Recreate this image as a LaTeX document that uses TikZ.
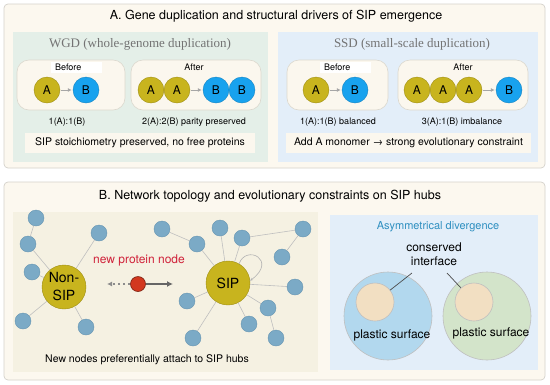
\documentclass[tikz,border=0pt]{standalone}
\usepackage{fontspec}
\setmainfont{TeX Gyre Heros}
\newfontfamily\ttlserif{Liberation Serif}
\usetikzlibrary{positioning,arrows.meta}
\definecolor{panelbg}{HTML}{FCF8EF}
\definecolor{panelline}{HTML}{D5D2CB}
\definecolor{wgdbg}{HTML}{E4EFE8}
\definecolor{ssdbg}{HTML}{E3EEF9}
\definecolor{stagebg}{HTML}{FBF7EE}
\definecolor{stageline}{HTML}{DCD8CE}
\definecolor{netbg}{HTML}{F5F1E2}
\definecolor{acol}{HTML}{C8B41E}
\definecolor{aline}{HTML}{9E8E12}
\definecolor{bcol}{HTML}{18A2EE}
\definecolor{bline}{HTML}{1584C2}
\definecolor{satcol}{HTML}{7BAAC6}
\definecolor{satline}{HTML}{6796B2}
\definecolor{newcol}{HTML}{D2381F}
\definecolor{newline}{HTML}{7A2010}
\definecolor{bigblue}{HTML}{B2D8EE}
\definecolor{biggreen}{HTML}{D3E4CA}
\definecolor{corecol}{HTML}{F2DFC2}
\definecolor{asymcol}{HTML}{2E8FC0}
\definecolor{newtxt}{HTML}{D0223A}
\tikzset{
  panelbox/.style={draw=panelline, fill=panelbg, rounded corners=4pt, line width=0.7pt},
  stagebox/.style={draw=stageline, fill=stagebg, rounded corners=12pt, line width=0.6pt},
  paneltitle/.style={font=\fontsize{12.5}{14}\selectfont, text=black},
  subtitle/.style={font=\ttlserif\fontsize{13}{15}\selectfont, text=black!55},
  beforelbl/.style={fill=white, text width=43pt, inner xsep=4pt, inner ysep=2pt, align=left},
  ratio/.style={font=\fontsize{9}{11}\selectfont},
  notebox/.style={fill=stagebg, minimum height=20pt, font=\fontsize{10.5}{12}\selectfont},
  anode/.style={circle, draw=aline, fill=acol, minimum size=26pt, inner sep=0pt, font=\fontsize{12}{14}\selectfont},
  bnode/.style={circle, draw=bline, fill=bcol, minimum size=26pt, inner sep=0pt, font=\fontsize{12}{14}\selectfont},
  dupearrow/.style={-{Latex[length=4pt,width=4pt]}, draw=black!35, line width=0.9pt, shorten <=1pt, shorten >=1pt},
  hub/.style={circle, draw=aline, fill=acol, minimum size=44pt, inner sep=0pt, align=center, font=\fontsize{14}{18}\selectfont},
  sat/.style={circle, draw=satline, fill=satcol, minimum size=16pt, inner sep=0pt, line width=0.4pt},
  newnode/.style={circle, draw=newline, fill=newcol, minimum size=15pt, inner sep=0pt, line width=0.6pt},
  edge/.style={draw=black!25, line width=0.6pt},
  loopedge/.style={draw=black!30, line width=0.6pt, -{Stealth[length=3pt,width=2.5pt]}},
  pushaway/.style={-{Latex[length=5pt,width=5pt]}, draw=black!45, line width=1.2pt, dash pattern=on 2pt off 3pt},
  pulltowards/.style={-{Latex[length=6pt,width=6pt]}, draw=black!60, line width=1.3pt},
  bigcirc/.style={circle, draw=black!25, minimum size=88pt, inner sep=0pt, line width=0.6pt},
  core/.style={circle, draw=black!25, fill=corecol, minimum size=38pt, inner sep=0pt, line width=0.6pt},
  pointer/.style={draw=black!70, line width=0.7pt},
  bodytext/.style={font=\fontsize{12}{14}\selectfont}
}
\begin{document}
\begin{tikzpicture}[x=1pt, y=-1pt, >=Latex, every node/.style={font=\fontsize{9}{11}\selectfont}]
  \useasboundingbox (0,0) rectangle (550,384);
  \fill[white] (0,0) rectangle (550,384);

  % panel A
  \draw[panelbox] (4,4) rectangle (545,168);
  \node[paneltitle] (ttlA) at (276,16) {A. Gene duplication and structural drivers of SIP emergence};
  \fill[wgdbg] (13,32) rectangle (268,162);
  \fill[ssdbg] (278,32) rectangle (538,162);
  \node[subtitle] (wgd) at (140,44) {WGD (whole-genome duplication)};
  \node[subtitle] (ssd) at (412,44) {SSD (small-scale duplication)};

  % WGD stages
  \draw[stagebox] (17,60) rectangle (125,110);
  \draw[stagebox] (131,60) rectangle (261,110);
  \node[beforelbl] (wbefore) at (76.5,67.5) {Before};
  \node (wafter) at (194,67.5) {After};
  \node[anode] (wa) at (47,90) {A};
  \node[bnode] (wb) at (86,90) {B};
  \draw[dupearrow] (wa) -- (wb);
  \node[anode] (wa1) at (151,90) {A};
  \node[anode] (wa2) at (177,90) {A};
  \node[bnode] (wb1) at (216,90) {B};
  \node[bnode] (wb2) at (242,90) {B};
  \draw[dupearrow] (wa2) -- (wb1);
  \node[ratio] (wr1) at (67,122) {1(A):1(B)};
  \node[ratio] (wr2) at (194,122) {2(A):2(B) parity preserved};
  \node[notebox, minimum width=230pt] (wnote) at (140,143) {SIP stoichiometry preserved, no free proteins};

  % SSD stages
  \draw[stagebox] (287,60) rectangle (388,110);
  \draw[stagebox] (398,60) rectangle (528,110);
  \node[beforelbl] (sbefore) at (345.5,67.5) {Before};
  \node (safter) at (463,67.5) {After};
  \node[anode] (sa) at (316,90) {A};
  \node[bnode] (sb) at (355,90) {B};
  \draw[dupearrow] (sa) -- (sb);
  \node[anode] (sa1) at (417,90) {A};
  \node[anode] (sa2) at (443,90) {A};
  \node[anode] (sa3) at (469,90) {A};
  \node[bnode] (sb1) at (509,90) {B};
  \draw[dupearrow] (sa3) -- (sb1);
  \node[ratio] (sr1) at (338,122) {1(A):1(B) balanced};
  \node[ratio] (sr2) at (462,122) {3(A):1(B) imbalance};
  \node[notebox, minimum width=245pt] (snote) at (408.5,143) {Add A monomer \textrightarrow{} strong evolutionary constraint};

  % panel B
  \draw[panelbox] (4,182) rectangle (545,380);
  \node[paneltitle] (ttlB) at (270,196) {B. Network topology and evolutionary constraints on SIP hubs};
  \fill[netbg] (13,212) rectangle (318,372);
  \fill[ssdbg] (330,215) rectangle (538,370);

  % non-SIP hub
  \node[hub] (nonsip) at (64,287) {Non-\\SIP};
  \node[sat] (n1) at (36,218) {};
  \node[sat] (n2) at (28,244) {};
  \node[sat] (n3) at (32,272) {};
  \node[sat] (n4) at (99,233) {};
  \node[sat] (n5) at (23,321) {};
  \node[sat] (n6) at (86,327) {};
  \draw[edge] (n1) -- (n2);
  \foreach \s in {n2,n3,n4,n5,n6}
    \draw[edge] (\s) -- (nonsip);

  % SIP hub
  \node[hub] (sip) at (228,283) {SIP};
  \node[sat] (h1) at (162,229) {};
  \node[sat] (h2) at (197,244) {};
  \node[sat] (h3) at (220,228) {};
  \node[sat] (h4) at (242,238) {};
  \node[sat] (h5) at (303,229) {};
  \node[sat] (h6) at (282,257) {};
  \node[sat] (h7) at (295,287) {};
  \node[sat] (h8) at (268,308) {};
  \node[sat] (h9) at (276,338) {};
  \node[sat] (h10) at (249,324) {};
  \node[sat] (h11) at (187,301) {};
  \node[sat] (h12) at (193,338) {};
  \draw[edge] (h1) -- (h2);
  \draw[edge] (h4) -- (h5);
  \draw[edge] (h5) -- (h6);
  \draw[edge] (h8) -- (h9);
  \foreach \s in {h2,h3,h4,h7,h8,h10,h11,h12}
    \draw[edge] (\s) -- (sip);
  \draw[loopedge] (sip.60) .. controls (246,244) and (278,260) .. (sip.6);

  % new protein
  \node[newnode] (newp) at (138,284) {};
  \node[font=\fontsize{12}{14}\selectfont, text=newtxt] (newlbl) at (139,260) {new protein node};
  \coordinate (awayend) at (107,284);
  \coordinate (towardend) at (173,284);
  \draw[pushaway] (newp) -- (awayend);
  \draw[pulltowards] (newp) -- (towardend);
  \node[font=\fontsize{10.5}{12}\selectfont] (netnote) at (147,360) {New nodes preferentially attach to SIP hubs};

  % asymmetrical divergence
  \node[font=\fontsize{11}{13}\selectfont, text=asymcol] (asym) at (438,227) {Asymmetrical divergence};
  \node[bigcirc, fill=bigblue] (left) at (388,316) {};
  \node[bigcirc, fill=biggreen] (right) at (487,316) {};
  \node[core] (core1) at (375,302) {};
  \node[core] (core2) at (474,302) {};
  \node[bodytext, align=center] (cons) at (434,254) {conserved\\interface};
  \node[bodytext] (plast1) at (392,335) {plastic surface};
  \node[bodytext] (plast2) at (491,333) {plastic surface};
  \draw[pointer] ([xshift=-22pt,yshift=-4pt]cons.south) -- (core1);
  \draw[pointer] ([xshift=13pt,yshift=-4pt]cons.south) -- (core2);
\end{tikzpicture}
\end{document}
